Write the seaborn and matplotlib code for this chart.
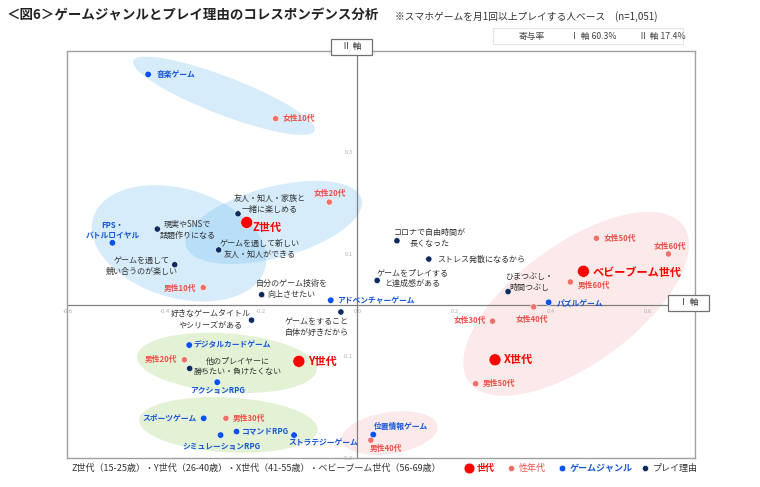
import matplotlib
matplotlib.use("Agg")
import matplotlib.pyplot as plt
from matplotlib.patches import Ellipse, Rectangle
import seaborn as sns
import pandas as pd

# ---------------- data ----------------
gen_labels = ["Z世代", "Y世代", "X世代", "ベビーブーム世代"]
gen_x = [-0.228, -0.120, 0.286, 0.469]
gen_y = [0.163, -0.110, -0.107, 0.067]

sex_labels = ["女性10代", "女性20代", "男性10代", "女性50代", "女性60代", "男性60代",
              "女性40代", "女性30代", "男性50代", "男性40代", "男性20代", "男性30代"]
sex_x = [-0.168, -0.057, -0.318, 0.496, 0.645, 0.442, 0.366, 0.281, 0.246, 0.029, -0.357, -0.271]
sex_y = [0.367, 0.203, 0.035, 0.132, 0.101, 0.046, -0.003, -0.031, -0.154, -0.265, -0.107, -0.222]

genre_labels = ["音楽ゲーム", "FPS・\nバトルロイヤル", "アドベンチャーゲーム", "パズルゲーム",
                "位置情報ゲーム", "デジタルカードゲーム", "アクションRPG", "スポーツゲーム",
                "コマンドRPG", "シミュレーションRPG", "ストラテジーゲーム"]
genre_x = [-0.432, -0.506, -0.054, 0.397, 0.034, -0.347, -0.289, -0.317, -0.249, -0.282, -0.130]
genre_y = [0.454, 0.123, 0.010, 0.006, -0.254, -0.078, -0.151, -0.222, -0.248, -0.255, -0.255]

reason_labels = ["友人・知人・家族と\n一緒に楽しめる", "現実やSNSで\n話題作りになる",
                 "ゲームを通して新しい\n友人・知人ができる", "ゲームを通して\n競い合うのが楽しい",
                 "自分のゲーム技術を\n向上させたい", "好きなゲームタイトル\nやシリーズがある",
                 "ゲームをすること\n自体が好きだから", "コロナで自由時間が\n長くなった",
                 "ストレス発散になるから", "ゲームをプレイする\nと達成感がある",
                 "ひまつぶし・\n時間つぶし", "他のプレイヤーに\n勝ちたい・負けたくない"]
reason_x = [-0.246, -0.413, -0.286, -0.377, -0.197, -0.218, -0.033, 0.083, 0.149, 0.042, 0.313, -0.346]
reason_y = [0.180, 0.150, 0.109, 0.080, 0.021, -0.029, -0.013, 0.127, 0.091, 0.049, 0.027, -0.124]

x_ticks = [-0.6, -0.4, -0.2, 0.0, 0.2, 0.4, 0.6]
y_ticks = [0.3, 0.1, -0.1, -0.3]
contrib = ["寄与率", "Ⅰ 軸 60.3%", "Ⅱ 軸 17.4%"]

# ---------------- styles ----------------
sns.set_style("white")
plt.rcParams["font.family"] = ["Noto Sans CJK JP", "DejaVu Sans"]

C_GEN = "#FF0000"
C_SEX = "#F0706A"
C_SEX_T = "#F0504A"
C_GENRE = "#0A52F0"
C_GENRE_T = "#1656D8"
C_REASON = "#0D2B5E"
C_REASON_T = "#333333"

groups = {"世代": (gen_labels, gen_x, gen_y),
          "性年代": (sex_labels, sex_x, sex_y),
          "ゲームジャンル": (genre_labels, genre_x, genre_y),
          "プレイ理由": (reason_labels, reason_x, reason_y)}
rows = []
for g, (labs, xs, ys) in groups.items():
    for l, x, y in zip(labs, xs, ys):
        rows.append({"label": l, "x": x, "y": y, "group": g})
df = pd.DataFrame(rows)

W, H = 760, 487
fig = plt.figure(figsize=(W / 100, H / 100), dpi=100)
ax = fig.add_axes([67 / W, 1 - 458 / H, (695 - 67) / W, (458 - 51) / H])
ax.set_xlim(-0.6, 0.7)
ax.set_ylim(-0.3, 0.5)

# ellipses
ells = [
    ((-0.275, 0.412), 0.40, 0.075, -20, "#63B8F0", 0.26),
    ((-0.368, 0.122), 0.37, 0.215, -15, "#63B8F0", 0.26),
    ((-0.172, 0.163), 0.375, 0.14, 14, "#63B8F0", 0.26),
    ((0.454, 0.003), 0.54, 0.24, 34, "#F39A9A", 0.20),
    ((0.068, -0.251), 0.20, 0.082, 8, "#F39A9A", 0.20),
    ((-0.269, -0.113), 0.373, 0.116, -4, "#A8D67A", 0.32),
    ((-0.266, -0.235), 0.37, 0.108, -3, "#A8D67A", 0.32),
]
for c, w, h, a, col, al in ells:
    ax.add_patch(Ellipse(c, w, h, angle=a, facecolor=col, alpha=al, edgecolor="none", zorder=1))

ax.axhline(0, color="#808080", lw=0.9, zorder=2)
ax.axvline(0, color="#808080", lw=0.9, zorder=2)

sns.scatterplot(data=df, x="x", y="y", hue="group", size="group",
                palette={"世代": C_GEN, "性年代": C_SEX, "ゲームジャンル": C_GENRE, "プレイ理由": C_REASON},
                sizes={"世代": 75, "性年代": 20, "ゲームジャンル": 22, "プレイ理由": 20},
                linewidth=0.4, edgecolor="white", legend=False, ax=ax, zorder=4)

ax.set_xlabel("")
ax.set_ylabel("")
ax.set_xticks([])
ax.set_yticks([])
for s in ax.spines.values():
    s.set_color("#A0A0A0")
    s.set_linewidth(1.0)

# tick labels near the axis lines
for t in x_ticks:
    ax.annotate(f"{t:.1f}", xy=(t, 0), xytext=(1, -6), textcoords="offset pixels",
                ha="center", va="center", fontsize=4.2, color="#B0B0B0", zorder=3)
for t in y_ticks:
    ax.annotate(f"{t:.1f}", xy=(0, t), xytext=(-4, 0), textcoords="offset pixels",
                ha="right", va="center", fontsize=4.2, color="#B0B0B0", zorder=3)

# label placement (dx, dy in pixels, ha)
place = {
    "Z世代": (6, -5, "left"), "Y世代": (9, 0, "left"), "X世代": (9, 0, "left"),
    "ベビーブーム世代": (9, -1, "left"),
    "女性10代": (7, 0, "left"), "女性20代": (1, 9, "center"), "男性10代": (-7, -1, "right"),
    "女性50代": (7, 0, "left"), "女性60代": (1, 7, "center"), "男性60代": (7, -4, "left"),
    "女性40代": (-2, -13, "center"), "女性30代": (-7, 1, "right"), "男性50代": (7, 0, "left"),
    "男性40代": (-1, -8, "left"), "男性20代": (-7, 0, "right"), "男性30代": (7, 0, "left"),
    "音楽ゲーム": (8, 0, "left"), "FPS・\nバトルロイヤル": (0, 12, "center"),
    "アドベンチャーゲーム": (6, 0, "left"), "パズルゲーム": (8, 0, "left"),
    "位置情報ゲーム": (1, 8, "left"), "デジタルカードゲーム": (4, 0, "left"),
    "アクションRPG": (0, -8, "center"), "スポーツゲーム": (-7, 0, "right"),
    "コマンドRPG": (5, 0, "left"), "シミュレーションRPG": (1, -11, "center"),
    "ストラテジーゲーム": (29, -8, "center"),
    "友人・知人・家族と\n一緒に楽しめる": (32, 10, "center"),
    "現実やSNSで\n話題作りになる": (30, -1, "center"),
    "ゲームを通して新しい\n友人・知人ができる": (41, 1, "center"),
    "ゲームを通して\n競い合うのが楽しい": (-33, -1, "center"),
    "自分のゲーム技術を\n向上させたい": (30, 6, "center"),
    "好きなゲームタイトル\nやシリーズがある": (-41, 1, "center"),
    "ゲームをすること\n自体が好きだから": (-24, -15, "center"),
    "コロナで自由時間が\n長くなった": (33, 3, "center"),
    "ストレス発散になるから": (8, 0, "left"),
    "ゲームをプレイする\nと達成感がある": (35, 2, "center"),
    "ひまつぶし・\n時間つぶし": (21, 10, "center"),
    "他のプレイヤーに\n勝ちたい・負けたくない": (48, 2, "center"),
}
style = {"世代": (8.0, "bold", C_GEN), "性年代": (5.6, "bold", C_SEX_T),
         "ゲームジャンル": (5.6, "bold", C_GENRE_T), "プレイ理由": (5.8, "normal", C_REASON_T)}
for _, r in df.iterrows():
    dx, dy, ha = place[r["label"]]
    fs, fw, col = style[r["group"]]
    ax.annotate(r["label"], xy=(r["x"], r["y"]), xytext=(dx, dy), textcoords="offset pixels",
                ha=ha, va="center", multialignment="center", linespacing=1.25,
                fontsize=fs, fontweight=fw, color=col, zorder=5)

# axis name boxes
def fbox(x0, y0, x1, y1, txt, fs=6.3):
    fig.patches.append(Rectangle((x0 / W, 1 - y1 / H), (x1 - x0) / W, (y1 - y0) / H,
                                 transform=fig.transFigure, facecolor="white",
                                 edgecolor="#707070", lw=0.9, zorder=10))
    fig.text((x0 + x1) / 2 / W, 1 - (y0 + y1) / 2 / H, txt, ha="center", va="center",
             fontsize=fs, color="#333333", zorder=11)

fbox(331, 39, 372, 55, "Ⅱ 軸")
fbox(668, 295, 709, 311, "Ⅰ 軸")

# contribution box
fig.patches.append(Rectangle((493 / W, 1 - 44 / H), (683 - 493) / W, 16 / H,
                             transform=fig.transFigure, facecolor="white",
                             edgecolor="#E4E4E4", lw=0.8, zorder=9))
for txt, px in zip(contrib, [532, 593, 662]):
    fig.text(px / W, 1 - 36 / H, txt, ha="center", va="center", fontsize=6.3,
             color="#444444", zorder=12)

# title
fig.text(7 / W, 1 - 16 / H, "＜図6＞ゲームジャンルとプレイ理由のコレスポンデンス分析",
         ha="left", va="center", fontsize=9.7, fontweight="bold", color="#222222")
fig.text(395 / W, 1 - 17 / H, "※スマホゲームを月1回以上プレイする人ベース　(n=1,051)",
         ha="left", va="center", fontsize=7, color="#333333")

# bottom legend
fig.text(72 / W, 1 - 468 / H,
         "Z世代（15-25歳）・Y世代（26-40歳）・X世代（41-55歳）・ベビーブーム世代（56-69歳）",
         ha="left", va="center", fontsize=6.5, color="#333333")
leg = [("世代", C_GEN, C_GEN, 469, 60, "bold"), ("性年代", C_SEX, C_SEX_T, 511, 20, "normal"),
       ("ゲームジャンル", C_GENRE, C_GENRE_T, 562, 22, "bold"), ("プレイ理由", C_REASON, "#333333", 645, 20, "normal")]
for txt, mc, tc, px, sz, fw in leg:
    fig.lines.append(plt.Line2D([px / W], [1 - 468 / H], marker="o", markersize=(sz ** 0.5),
                                color=mc, markeredgecolor="white", markeredgewidth=0.4,
                                transform=fig.transFigure, linestyle="none"))
    fig.text((px + 8) / W, 1 - 468 / H, txt, ha="left", va="center", fontsize=6.5,
             fontweight=fw, color=tc)

fig.savefig("out.png", dpi=100)
